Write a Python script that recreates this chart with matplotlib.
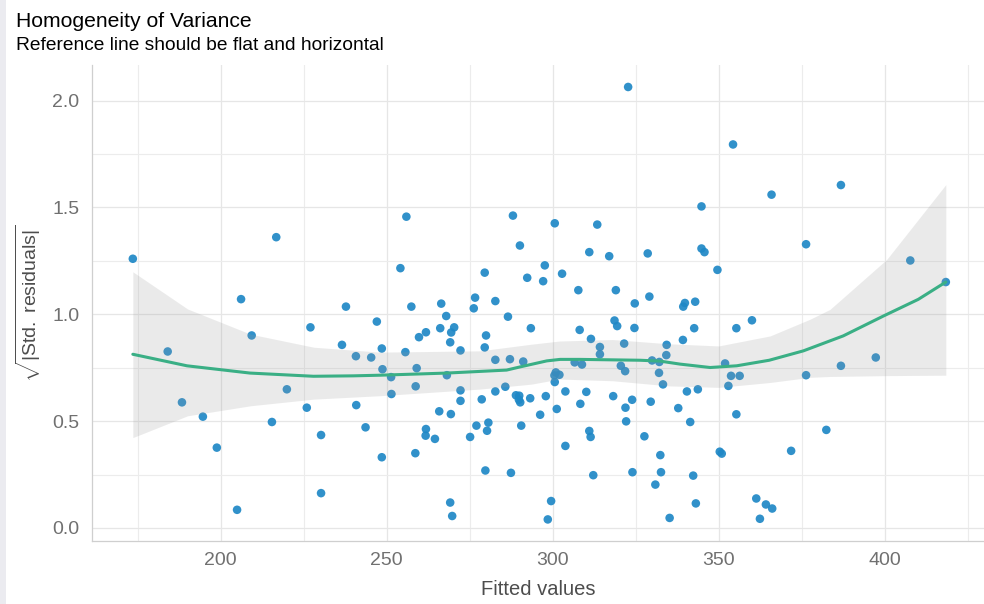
import matplotlib
matplotlib.use("Agg")
import matplotlib.pyplot as plt
from matplotlib.patches import Rectangle
from matplotlib.ticker import MultipleLocator

plt.rcParams['font.family'] = ['Liberation Sans', 'DejaVu Sans']
plt.rcParams['mathtext.fontset'] = 'custom'
plt.rcParams['mathtext.rm'] = 'Liberation Sans'
plt.rcParams['mathtext.it'] = 'Liberation Sans:italic'

# ---- data ----
fitted = [173.5, 216.7, 206.1, 237.7, 247.0, 227.0, 209.3, 236.5, 184.0, 240.7,
          245.3, 219.9, 188.3, 225.9, 240.8, 194.6, 215.4, 243.6, 230.2, 198.8,
          230.2, 204.9, 322.7, 255.9, 288.0, 300.6, 313.4, 290.1, 311.0, 317.0,
          328.6, 254.1, 279.5, 297.6, 292.3, 297.1, 302.8, 307.7, 319.0, 329.1,
          324.7, 276.6, 282.7, 266.4, 257.4, 276.2, 267.9, 286.5, 318.6, 319.4,
          266.1, 270.3, 269.4, 293.4, 308.1, 324.6, 261.8, 259.7, 279.9, 269.1,
          311.5, 279.5, 321.5, 314.2, 334.3, 248.5, 255.6, 272.2, 314.2, 334.2,
          282.7, 287.1, 291.1, 306.6, 308.8, 329.9, 332.1, 248.7, 259.0, 268.1,
          251.3, 300.9, 300.5, 302.0, 320.5, 321.8, 332.0, 300.6, 258.7, 272.2,
          285.7, 282.7, 303.8, 310.1, 333.2, 251.4, 288.9, 289.9, 297.9, 318.2,
          290.2, 293.2, 289.8, 272.2, 278.6, 308.3, 323.9, 329.5, 337.8, 321.9,
          265.8, 269.3, 296.2, 301.2, 322.1, 280.6, 277.0, 290.5, 261.8, 261.7,
          264.5, 280.2, 275.1, 311.0, 311.4, 327.6, 303.8, 248.5, 258.6, 332.4,
          279.7, 287.4, 312.2, 324.0, 332.6, 330.9, 269.1, 269.7, 299.5, 298.5,
          335.2, 354.3, 365.9, 386.8, 344.8, 376.3, 344.8, 345.7, 349.6, 407.7,
          418.4, 342.9, 339.8, 339.3, 360.0, 355.3, 342.6, 339.2, 351.9, 353.7,
          356.3, 352.9, 340.4, 343.7, 355.3, 341.4, 376.3, 386.8, 397.3, 382.4,
          371.8, 350.3, 350.9, 342.3, 343.1, 361.3, 364.2, 366.1, 362.4]
sqrt_std_resid = [1.260, 1.361, 1.071, 1.036, 0.966, 0.939, 0.901, 0.857, 0.826, 0.804,
                  0.798, 0.649, 0.588, 0.563, 0.575, 0.521, 0.496, 0.471, 0.435, 0.376,
                  0.163, 0.085, 2.064, 1.457, 1.462, 1.426, 1.420, 1.322, 1.291, 1.272,
                  1.285, 1.216, 1.195, 1.229, 1.171, 1.155, 1.190, 1.113, 1.113, 1.083,
                  1.051, 1.078, 1.062, 1.050, 1.036, 1.028, 0.992, 0.989, 0.971, 0.945,
                  0.935, 0.939, 0.915, 0.935, 0.927, 0.936, 0.916, 0.893, 0.901, 0.869,
                  0.885, 0.845, 0.863, 0.847, 0.857, 0.840, 0.823, 0.831, 0.813, 0.809,
                  0.787, 0.790, 0.779, 0.775, 0.765, 0.784, 0.777, 0.743, 0.748, 0.715,
                  0.706, 0.728, 0.714, 0.717, 0.759, 0.734, 0.726, 0.683, 0.663, 0.644,
                  0.661, 0.639, 0.639, 0.637, 0.672, 0.627, 0.621, 0.619, 0.617, 0.617,
                  0.588, 0.607, 0.600, 0.595, 0.602, 0.581, 0.600, 0.591, 0.561, 0.563,
                  0.546, 0.533, 0.530, 0.557, 0.499, 0.493, 0.479, 0.479, 0.463, 0.432,
                  0.417, 0.455, 0.426, 0.454, 0.426, 0.429, 0.384, 0.331, 0.350, 0.341,
                  0.269, 0.258, 0.247, 0.261, 0.261, 0.203, 0.119, 0.056, 0.126, 0.040,
                  0.047, 1.795, 1.560, 1.605, 1.505, 1.328, 1.308, 1.291, 1.208, 1.252,
                  1.151, 1.059, 1.053, 1.036, 0.972, 0.935, 0.935, 0.880, 0.770, 0.712,
                  0.712, 0.665, 0.639, 0.649, 0.532, 0.496, 0.715, 0.759, 0.798, 0.459,
                  0.361, 0.357, 0.348, 0.245, 0.115, 0.138, 0.110, 0.091, 0.043]

smooth_x = [173.5, 189.8, 208.8, 227.9, 239.9, 248.0, 268.1, 286.1, 290.2, 298.2,
            302.2, 308.2, 326.3, 332.3, 338.3, 347.4, 355.4, 365.2, 375.5, 387.5,
            399.6, 410.1, 418.4]
smooth_y = [0.813, 0.759, 0.725, 0.710, 0.712, 0.715, 0.725, 0.739, 0.754, 0.782,
            0.789, 0.789, 0.785, 0.781, 0.767, 0.751, 0.759, 0.785, 0.829, 0.899,
            0.992, 1.070, 1.151]

band_x = [173.5, 190.0, 209.0, 228.0, 248.0, 278.0, 293.5, 302.0, 318.0, 335.0,
          350.0, 365.5, 377.5, 383.5, 400.6, 418.4]
band_hi = [1.199, 1.025, 0.907, 0.846, 0.823, 0.829, 0.860, 0.875, 0.882, 0.862,
           0.852, 0.899, 0.977, 1.023, 1.257, 1.607]
band_lo = [0.423, 0.525, 0.572, 0.603, 0.619, 0.650, 0.673, 0.697, 0.689, 0.665,
           0.658, 0.681, 0.705, 0.709, 0.713, 0.715]

title = "Homogeneity of Variance"
subtitle = "Reference line should be flat and horizontal"
xlabel = "Fitted values"
ylabel = r"$\sqrt{|\mathrm{Std.\ residuals}|}$"

# ---- figure ----
W, H = 984, 604
fig = plt.figure(figsize=(W / 100, H / 100), dpi=100)
fig.patches.append(Rectangle((0, 0), 6 / W, 1, transform=fig.transFigure,
                             facecolor='#ebebf0', edgecolor='none', zorder=0))

left, right, top, bottom = 92, 984, 65.4, 541
ax = fig.add_axes([left / W, 1 - bottom / H, (right - left) / W, (bottom - top) / H])

ax.scatter(fitted, sqrt_std_resid, s=38, color='#1f88c6', alpha=0.92,
           edgecolors='none', zorder=2)
ax.fill_between(band_x, band_lo, band_hi, color='#9a9a9a', alpha=0.2,
                linewidth=0, zorder=3)
ax.plot(smooth_x, smooth_y, color='#3aaf85', linewidth=2.2, zorder=4,
        solid_capstyle='round')

ax.set_xlim(161.2, 429.9)
ax.set_ylim(-0.061, 2.165)
ax.xaxis.set_major_locator(MultipleLocator(50))
ax.xaxis.set_minor_locator(MultipleLocator(25))
ax.yaxis.set_major_locator(MultipleLocator(0.5))
ax.yaxis.set_minor_locator(MultipleLocator(0.25))
ax.yaxis.set_major_formatter(matplotlib.ticker.FormatStrFormatter('%.1f'))

ax.grid(which='major', color='#e6e6e6', linewidth=0.9, zorder=0)
ax.grid(which='minor', color='#ececec', linewidth=0.8, zorder=0)
ax.set_axisbelow(True)

for s in ['top', 'right']:
    ax.spines[s].set_visible(False)
for s in ['left', 'bottom']:
    ax.spines[s].set_color('#cfcfcf')
    ax.spines[s].set_linewidth(0.9)

ax.tick_params(which='both', length=0, labelsize=14, labelcolor='#707070')
ax.tick_params(axis='y', pad=9)
ax.tick_params(axis='x', pad=8)

ax.set_xlabel(xlabel, fontsize=14.5, color='#4d4d4d', labelpad=8)
ax.set_ylabel(ylabel, fontsize=14, color='#4d4d4d', labelpad=7)

fig.text(16 / W, 1 - 27 / H, title, fontsize=15.2, color='black', ha='left', va='baseline')
fig.text(16 / W, 1 - 50 / H, subtitle, fontsize=13.8, color='black', ha='left', va='baseline')

fig.savefig('out.png', dpi=100)
